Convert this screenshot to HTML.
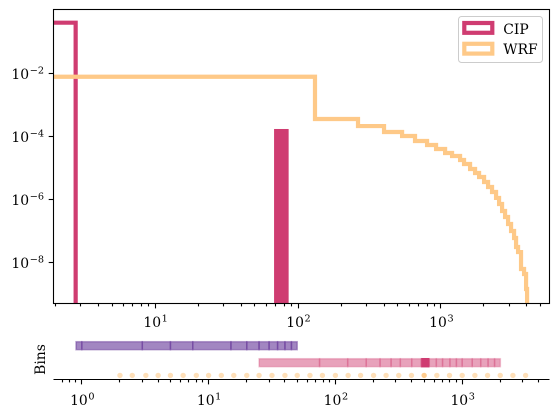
<!DOCTYPE html>
<html>
<head>
<meta charset="utf-8">
<style>
html,body{margin:0;padding:0;background:#fff;}
svg{display:block;}
text{font-family:"DejaVu Serif","Liberation Serif",serif;fill:#000;font-size:13.9px;}
</style>
</head>
<body>
<svg id="chart" width="559" height="418" viewBox="0 0 559 418" xmlns="http://www.w3.org/2000/svg">
<defs><clipPath id="main-clip"><rect x="54" y="9.5" width="495.5" height="293.5"/></clipPath></defs>
<g id="main-marks" clip-path="url(#main-clip)"></g>
<g id="main-axes"></g>
<g id="bins-marks"></g>
<g id="bins-axes"></g>
<text transform="translate(45,359.5) rotate(-90)" text-anchor="middle">Bins</text>
<g>
<rect x="458.5" y="16.5" width="84" height="46" rx="3" fill="#fff" fill-opacity="0.8" stroke="#ccc" stroke-width="1"/>
<rect x="464.3" y="23" width="28" height="9.8" fill="none" stroke="#cf3c71" stroke-width="4.2"/>
<text x="503.3" y="34">CIP</text>
<rect x="464.3" y="43.8" width="28" height="9.8" fill="none" stroke="#fec988" stroke-width="4.2"/>
<text x="503.3" y="54">WRF</text>
</g>
</svg>
<script>
const cipBars = [[0.1, 2.78, 0.395], [68, 86, 1.67e-4]];
const wrfEdges = [1, 131.5, 263, 400, 535, 659, 800, 925, 1070, 1197, 1362, 1452, 1600, 1734, 1850, 2005, 2138, 2280, 2432, 2553, 2680, 2812, 2951, 3097, 3251, 3357, 3467, 3637, 3819, 3945, 4009];
const wrfValues = [7.6e-3, 3.47e-4, 2.07e-4, 1.34e-4, 1.0e-4, 6.93e-5, 5.18e-5, 3.86e-5, 2.88e-5, 2.32e-5, 1.73e-5, 1.29e-5, 8.96e-6, 6.68e-6, 4.99e-6, 3.47e-6, 2.40e-6, 1.67e-6, 1.08e-6, 6.93e-7, 4.16e-7, 2.69e-7, 1.61e-7, 9.64e-8, 5.78e-8, 2.99e-8, 2.07e-8, 6.0e-9, 4.16e-9, 1.39e-9];
const purpleBinEdges = [0.9, 1, 3, 5, 7.5, 15, 20, 25, 30, 35, 40, 45, 50];
const pinkBinEdges = [25, 75, 125, 175, 225, 275, 325, 400, 475, 550, 625, 700, 800, 900, 1000, 1200, 1400, 1600, 1800, 2000];
const pinkHighlightBin = [475, 550];
const wrfBinPoints = [2, 2.5, 3.2, 4, 5, 6.3, 8, 10, 12.6, 15.8, 20, 25, 31.6, 40, 50, 63, 79, 100, 126, 158, 200, 251, 316, 398, 501, 631, 794, 1000, 1259, 1585, 1995, 2512, 3162];
const wrfHighlightPoint = [501];
const mainXTicks = [1, 2, 3];
const mainYTicks = [-2, -4, -6, -8];
const binsXTicks = [0, 1, 2, 3];

const NS = 'http://www.w3.org/2000/svg';
const PINK = '#cf3c71', ORANGE = '#fec988', PURPLE = '#5f2e94';
function mainX(v){ return 298 + (Math.log10(v) - 2) * 142.9; }
function mainY(v){ return 73 + (-2 - Math.log10(v)) * 31.5; }
function binsX(v){ return 81.8 + Math.log10(v) * 126.8; }
function make(tag, parent, attrs){
  const el = document.createElementNS(NS, tag);
  for (const k in attrs) el.setAttribute(k, attrs[k]);
  parent.appendChild(el);
  return el;
}
const mainMarks = document.getElementById('main-marks');
const mainAxes = document.getElementById('main-axes');
const binsMarks = document.getElementById('bins-marks');
const binsAxes = document.getElementById('bins-axes');
const BASE = 310;

// CIP first bin outline and narrow filled bar
const firstBar = cipBars[0];
const cipLine = make('path', mainMarks, {d: 'M' + mainX(firstBar[0]) + ' ' + mainY(firstBar[2]) + 'H' + mainX(firstBar[1]) + 'V' + BASE, fill: 'none', stroke: PINK, 'stroke-width': 4.2});


const secondBar = cipBars[1];
const cipRect = make('rect', mainMarks, {x: mainX(secondBar[0]), y: mainY(secondBar[2]), width: mainX(secondBar[1]) - mainX(secondBar[0]), height: BASE - mainY(secondBar[2]), fill: PINK});



// WRF step line
let wrfPath = 'M' + mainX(wrfEdges[0]) + ' ' + mainY(wrfValues[0]);
wrfValues.forEach(function(v, i){
  wrfPath += 'H' + mainX(wrfEdges[i + 1]);
  if (i + 1 < wrfValues.length) wrfPath += 'V' + mainY(wrfValues[i + 1]);
});
wrfPath += 'V' + BASE;
const wrfLine = make('path', mainMarks, {d: wrfPath, fill: 'none', stroke: ORANGE, 'stroke-width': 4.2, 'stroke-linejoin': 'miter'});



function tickLine(parent, x1, y1, x2, y2, name){
  const t = make('line', parent, {x1: x1, y1: y1, x2: x2, y2: y2, stroke: '#000', 'stroke-width': 1.1});
  
  
}
function powerLabel(parent, x, y, anchor, exp, name){
  const t = make('text', parent, {x: x, y: y, 'text-anchor': anchor});
  
  
  t.appendChild(document.createTextNode('10'));
  const s = make('tspan', t, {dy: -5.6, 'font-size': '9.7px', dx: 0.6});
  s.textContent = exp;
}
function snap(v){ return Math.round(v - 0.5) + 0.5; }

// Main axes spines
const frame = make('rect', mainAxes, {x: 53.5, y: 9.5, width: 496, height: 294, fill: 'none', stroke: '#000', 'stroke-width': 1.1});



// Main x ticks
for (let d = 0; d <= 3; d++) {
  for (let m = 1; m <= 9; m++) {
    const v = m * Math.pow(10, d);
    const px = mainX(v);
    if (px < 54 || px > 549) continue;
    tickLine(mainAxes, snap(px), 303.5, snap(px), m === 1 ? 308.4 : 306.4, m === 1 ? 'main-x-major-tick' : 'main-x-minor-tick');
  }
}
mainXTicks.forEach(function(e){
  powerLabel(mainAxes, mainX(Math.pow(10, e)) + 0.5, 327, 'middle', String(e), 'main-x-tick-label');
});
// Main y ticks
mainYTicks.forEach(function(e){
  const py = mainY(Math.pow(10, e));
  tickLine(mainAxes, 48.7, snap(py), 53.5, snap(py), 'main-y-major-tick');
  powerLabel(mainAxes, 44, py + 6, 'end', String(e).replace('-', '\u2212'), 'main-y-tick-label');
});

// Bins rows
function binRow(edges, color, y, h, fillOp, strokeOp, name){
  for (let i = 0; i < edges.length - 1; i++) {
    const x0 = binsX(edges[i]), x1 = binsX(edges[i + 1]);
    const r = make('rect', binsMarks, {x: x0, y: y, width: x1 - x0, height: h, fill: color, 'fill-opacity': fillOp, stroke: color, 'stroke-opacity': strokeOp, 'stroke-width': 1.5});
    
    
  }
}
binRow(purpleBinEdges, PURPLE, 341.7, 8, 0.58, 0.42, 'cip-bin-purple');
binRow(pinkBinEdges, PINK, 358.7, 8, 0.48, 0.28, 'wrf-bin-pink');
const hl = make('rect', binsMarks, {x: binsX(pinkHighlightBin[0]), y: 358, width: binsX(pinkHighlightBin[1]) - binsX(pinkHighlightBin[0]), height: 9.4, fill: PINK});



wrfBinPoints.forEach(function(v){
  const strong = wrfHighlightPoint.indexOf(v) >= 0;
  const c = make('circle', binsMarks, {cx: binsX(v), cy: 375.4, r: 2.7, fill: ORANGE, 'fill-opacity': strong ? 0.95 : 0.6});
  
  
});

// Bins axis
const binsSpine = make('line', binsAxes, {x1: 53.5, y1: 379.5, x2: 549.5, y2: 379.5, stroke: '#000', 'stroke-width': 1.1});


for (let d = -1; d <= 3; d++) {
  for (let m = 1; m <= 9; m++) {
    const v = m * Math.pow(10, d);
    const px = binsX(v);
    if (px < 54 || px > 549) continue;
    tickLine(binsAxes, snap(px), 379.5, snap(px), m === 1 ? 384.4 : 382.4, m === 1 ? 'bins-x-major-tick' : 'bins-x-minor-tick');
  }
}
binsXTicks.forEach(function(e){
  powerLabel(binsAxes, binsX(Math.pow(10, e)) + 0.5, 405, 'middle', String(e), 'bins-x-tick-label');
});
</script>
</body>
</html>
